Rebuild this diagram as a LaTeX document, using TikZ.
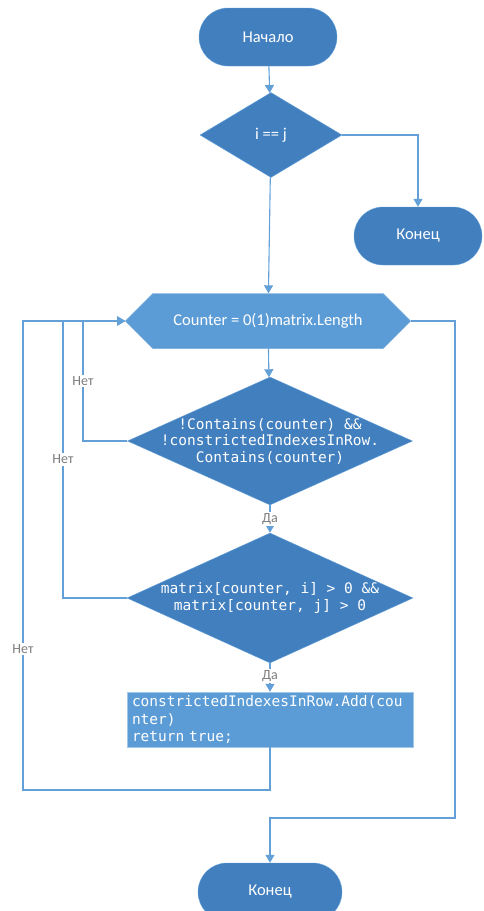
\documentclass[tikz,border=0pt]{standalone}
\usepackage{fontspec}
\setmainfont{Carlito}
\newfontfamily\codefont{DejaVu Sans Mono}
\usetikzlibrary{shapes.geometric,shapes.symbols,arrows.meta}

\definecolor{shapeblue}{RGB}{66,127,190}
\definecolor{boxblue}{RGB}{92,156,214}
\definecolor{lineblue}{RGB}{100,160,216}
\definecolor{labelgray}{RGB}{125,125,125}

\tikzset{
  term/.style={rectangle, rounded corners=29pt, fill=shapeblue, draw=lineblue, text=white,
    minimum height=58pt, inner sep=0pt, font=\fontsize{16.5}{19}\selectfont},
  decision/.style={diamond, fill=shapeblue, draw=lineblue, inner sep=0pt, text=white},
  loopbox/.style={signal, signal to=west and east, signal pointer angle=90, fill=boxblue,
    draw=lineblue, text=white, inner sep=0pt, minimum width=285pt, minimum height=55pt,
    font=\fontsize{16.5}{19}\selectfont},
  procbox/.style={rectangle, fill=boxblue, draw=lineblue!60, text=white, inner xsep=5pt,
    inner ysep=0pt, minimum height=55pt, text width=276pt, align=left,
    font=\codefont\fontsize{14.5}{17.5}\selectfont},
  codetext/.style={text=white, align=center, font=\codefont\fontsize{14.5}{16.5}\selectfont},
  lbl/.style={fill=white, text=labelgray, inner sep=1.5pt, font=\fontsize{14}{16}\selectfont},
  flow/.style={draw=lineblue, line width=1.1pt, -{Triangle[width=9pt,length=8pt]}}
}

\begin{document}
\begin{tikzpicture}[x=1pt,y=-1pt]
\useasboundingbox (0,0) rectangle (483,911);

%Terminals
\node[term, minimum width=138pt] (start) at (268,37) {Начало};
\node[term, minimum width=128pt] (stop1) at (418,236) {Конец};
\node[term, minimum width=144pt] (stop2) at (270,892) {Конец};

%Decisions
\node[decision, minimum width=142pt, minimum height=85pt] (eq) at (271,135)
  {\fontsize{16.5}{19}\selectfont i == j};
\node[decision, minimum width=285pt, minimum height=128pt] (chk) at (270,441) {};
\node[codetext] (chktext) at (chk.center)
  {!Contains(counter) \&\&\\!constrictedIndexesInRow.\\Contains(counter)};
\node[decision, minimum width=286pt, minimum height=130pt] (pos) at (270,598) {};
\node[codetext] (postext) at (pos.center)
  {matrix[counter, i] > 0 \&\&\\matrix[counter, j] > 0};

%Loop and process
\node[loopbox] (loop) at (268,321) {Counter = 0(1)matrix.Length};
\node[procbox] (add) at (270,719.5)
  {constrictedIndexesInRow.Add(cou\\nter)\\return true;};

%Connectors
\draw[flow] (start) -- (eq);
\draw[flow] (eq.east) -| (stop1.north);
\draw[flow] (eq) -- (loop);
\draw[flow] (loop) -- (chk);
\draw[flow] (chk) -- node[lbl] {Да} (pos);
\draw[flow] (pos) -- node[lbl, pos=0.45] {Да} (add);
\draw[flow] (chk.west) -- (83,441) -- node[lbl] {Нет} (83,321) -- (loop.west);
\draw[flow] (pos.west) -- (63,598) -- node[lbl] {Нет} (63,321) -- (loop.west);
\draw[flow] (add.south) -- (270,790) -- (23,790) -- node[lbl, pos=0.3] {Нет} (23,321) -- (loop.west);
\draw[flow] (loop.east) -- (455,321) -- (455,818) -- (270,818) -- (stop2.north);

\end{tikzpicture}
\end{document}
